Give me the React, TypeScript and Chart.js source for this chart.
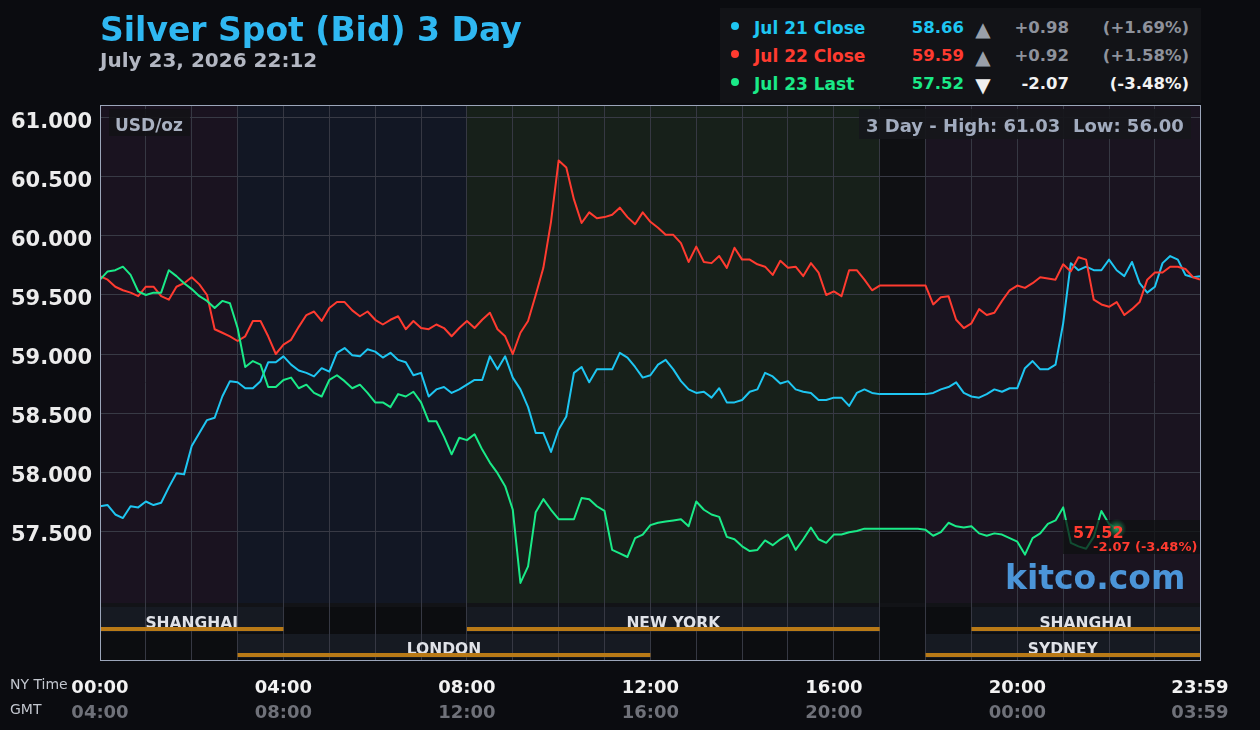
import React, { useEffect, useRef } from 'react';
import { Chart, registerables } from 'chart.js';

Chart.register(...registerables);

const FONT = '"DejaVu Sans", "Noto Sans", sans-serif';

// NY time, one sample every 10 minutes; the last sample of a full day is 23:59
const SAMPLE_STEP = 10;
const DAY_LAST_MINUTE = 1439;

const JUL21_CLOSE = [
  57.71, 57.72, 57.64, 57.61, 57.71, 57.70, 57.75, 57.72, 57.74, 57.87,
  57.99, 57.98, 58.22, 58.33, 58.44, 58.46, 58.64, 58.77, 58.76, 58.71,
  58.71, 58.77, 58.93, 58.93, 58.98, 58.91, 58.86, 58.84, 58.81, 58.88,
  58.85, 59.01, 59.05, 58.99, 58.98, 59.04, 59.02, 58.97, 59.01, 58.95,
  58.93, 58.82, 58.84, 58.64, 58.70, 58.72, 58.67, 58.70, 58.74, 58.78,
  58.78, 58.98, 58.87, 58.98, 58.80, 58.70, 58.55, 58.33, 58.33, 58.17,
  58.36, 58.47, 58.84, 58.89, 58.76, 58.87, 58.87, 58.87, 59.01, 58.97,
  58.89, 58.80, 58.82, 58.91, 58.95, 58.87, 58.77, 58.70, 58.67, 58.68,
  58.63, 58.71, 58.59, 58.59, 58.61, 58.68, 58.70, 58.84, 58.81, 58.75,
  58.77, 58.70, 58.68, 58.67, 58.61, 58.61, 58.63, 58.63, 58.56, 58.67,
  58.70, 58.67, 58.66, 58.66, 58.66, 58.66, 58.66, 58.66, 58.66, 58.67,
  58.70, 58.72, 58.76, 58.67, 58.64, 58.63, 58.66, 58.70, 58.68, 58.71,
  58.71, 58.88, 58.94, 58.87, 58.87, 58.91, 59.26, 59.77, 59.71, 59.74,
  59.71, 59.71, 59.80, 59.71, 59.66, 59.78, 59.60, 59.52, 59.57, 59.77,
  59.83, 59.80, 59.67, 59.65, 59.66,
];

const JUL22_CLOSE = [
  59.66, 59.63, 59.57, 59.54, 59.52, 59.49, 59.57, 59.57, 59.49, 59.46,
  59.57, 59.60, 59.65, 59.59, 59.50, 59.21, 59.18, 59.15, 59.11, 59.15,
  59.28, 59.28, 59.15, 59.00, 59.08, 59.12, 59.23, 59.33, 59.36, 59.28,
  59.39, 59.44, 59.44, 59.37, 59.32, 59.36, 59.29, 59.25, 59.29, 59.32,
  59.21, 59.28, 59.22, 59.21, 59.25, 59.22, 59.15, 59.22, 59.28, 59.22,
  59.29, 59.35, 59.21, 59.15, 59.00, 59.18, 59.28, 59.50, 59.73, 60.12,
  60.64, 60.58, 60.31, 60.11, 60.20, 60.15, 60.16, 60.18, 60.24, 60.16,
  60.10, 60.20, 60.12, 60.07, 60.01, 60.01, 59.94, 59.78, 59.91, 59.78,
  59.77, 59.83, 59.73, 59.90, 59.80, 59.80, 59.76, 59.74, 59.67, 59.79,
  59.73, 59.74, 59.66, 59.77, 59.69, 59.50, 59.53, 59.49, 59.71, 59.71,
  59.63, 59.54, 59.58, 59.58, 59.58, 59.58, 59.58, 59.58, 59.58, 59.42,
  59.48, 59.49, 59.29, 59.22, 59.26, 59.38, 59.33, 59.35, 59.45, 59.54,
  59.58, 59.56, 59.60, 59.65, 59.64, 59.63, 59.76, 59.70, 59.82, 59.80,
  59.46, 59.42, 59.40, 59.44, 59.33, 59.38, 59.44, 59.63, 59.69, 59.69,
  59.74, 59.74, 59.72, 59.65, 59.63,
];

const JUL23_LAST = [
  59.63, 59.70, 59.71, 59.74, 59.67, 59.53, 59.50, 59.52, 59.52, 59.71,
  59.66, 59.60, 59.55, 59.49, 59.45, 59.39, 59.45, 59.43, 59.22, 58.89,
  58.94, 58.91, 58.72, 58.72, 58.78, 58.80, 58.71, 58.74, 58.67, 58.64,
  58.78, 58.82, 58.77, 58.71, 58.74, 58.67, 58.59, 58.59, 58.55, 58.66,
  58.64, 58.68, 58.59, 58.43, 58.43, 58.30, 58.15, 58.29, 58.27, 58.32,
  58.19, 58.08, 57.99, 57.88, 57.68, 57.06, 57.20, 57.66, 57.77, 57.68,
  57.60, 57.60, 57.60, 57.78, 57.77, 57.71, 57.67, 57.34, 57.31, 57.28,
  57.44, 57.47, 57.55, 57.57, 57.58, 57.59, 57.60, 57.54, 57.75, 57.68,
  57.64, 57.62, 57.45, 57.43, 57.37, 57.33, 57.34, 57.42, 57.38, 57.43,
  57.47, 57.34, 57.43, 57.53, 57.43, 57.40, 57.47, 57.47, 57.49, 57.50,
  57.52, 57.52, 57.52, 57.52, 57.52, 57.52, 57.52, 57.52, 57.51, 57.46,
  57.49, 57.57, 57.54, 57.53, 57.54, 57.48, 57.46, 57.48, 57.47, 57.44,
  57.41, 57.30, 57.44, 57.48, 57.56, 57.59, 57.70, 57.40, 57.37, 57.35,
  57.45, 57.67, 57.56, 57.52,
];

const SERIES_NAMES = ['Jul 21 Close', 'Jul 22 Close', 'Jul 23 Last'];
const SERIES_COLORS = ['#1ec6f2', '#ff3b30', '#1aea88'];
const SERIES_VALUES = ['58.66', '59.59', '57.52'];
const SERIES_CHANGES = ['+0.98', '+0.92', '-2.07'];
const SERIES_PCTS = ['(+1.69%)', '(+1.58%)', '(-3.48%)'];
const SERIES_UP = [true, true, false];

const Y_TICKS = [57.5, 58, 58.5, 59, 59.5, 60, 60.5, 61];
const Y_MIN = 56.407;
const Y_MAX = 61.11;

const TICK_MINUTES = [0, 240, 480, 720, 960, 1200, 1439];
const NY_LABELS = ['00:00', '04:00', '08:00', '12:00', '16:00', '20:00', '23:59'];
const GMT_LABELS = ['04:00', '08:00', '12:00', '16:00', '20:00', '00:00', '03:59'];

const BANDS = [
  { from: 0, to: 180, color: '#1a1320' },
  { from: 180, to: 480, color: '#121724' },
  { from: 480, to: 1020, color: '#17201a' },
  { from: 1020, to: 1080, color: '#0f1013' },
  { from: 1080, to: 1439, color: '#1a1420' },
];
const SESSIONS_ROW1 = [
  { name: 'SHANGHAI', from: 0, to: 240 },
  { name: 'NEW YORK', from: 480, to: 1020 },
  { name: 'SHANGHAI', from: 1140, to: 1439 },
];
const SESSIONS_ROW2 = [
  { name: 'LONDON', from: 180, to: 720 },
  { name: 'SYDNEY', from: 1080, to: 1439 },
];

const HIGH_LOW_TEXT = '3 Day - High: 61.03  Low: 56.00';
const LAST_VALUE_TEXT = '57.52';
const LAST_CHANGE_TEXT = '-2.07 (-3.48%)';

const minuteOf = (i: number) => Math.min(i * SAMPLE_STEP, DAY_LAST_MINUTE);
const toPoints = (vals: number[]) => vals.map((v, i) => ({ x: minuteOf(i), y: v }));

const DATA_BOTTOM = 603;

const overlayPlugin = {
  id: 'kitcoOverlay',
  beforeDraw(chart: any) {
    const { ctx, chartArea: ca, scales } = chart;
    const xs = scales.x;
    ctx.save();
    BANDS.forEach((b) => {
      const x0 = xs.getPixelForValue(b.from);
      const x1 = xs.getPixelForValue(b.to);
      ctx.fillStyle = b.color;
      ctx.fillRect(x0, ca.top, x1 - x0, DATA_BOTTOM - ca.top);
    });
    ctx.fillStyle = '#0c0d10';
    ctx.fillRect(ca.left, DATA_BOTTOM, ca.right - ca.left, ca.bottom - DATA_BOTTOM);
    ctx.fillStyle = '#121317';
    ctx.fillRect(ca.left, DATA_BOTTOM, ca.right - ca.left, 4);
    ctx.fillStyle = '#161a22';
    SESSIONS_ROW1.forEach((s) => {
      const x0 = xs.getPixelForValue(s.from);
      const x1 = xs.getPixelForValue(s.to);
      ctx.fillRect(x0, 607, x1 - x0, 25);
    });
    SESSIONS_ROW2.forEach((s) => {
      const x0 = xs.getPixelForValue(s.from);
      const x1 = xs.getPixelForValue(s.to);
      ctx.fillRect(x0, 634, x1 - x0, 24);
    });
    ctx.restore();
  },
  beforeDatasetsDraw(chart: any) {
    const { ctx, scales } = chart;
    const xs = scales.x;
    ctx.save();
    ctx.font = `bold 15.5px ${FONT}`;
    ctx.textAlign = 'center';
    ctx.textBaseline = 'alphabetic';
    const drawRow = (rows: any[], barY: number, baseY: number) => {
      rows.forEach((s) => {
        const x0 = xs.getPixelForValue(s.from);
        const x1 = xs.getPixelForValue(s.to);
        ctx.fillStyle = '#e0e2e8';
        ctx.fillText(s.name, (x0 + x1) / 2, baseY);
        ctx.fillStyle = '#b97a17';
        ctx.fillRect(x0, barY, x1 - x0, 4);
      });
    };
    drawRow(SESSIONS_ROW1, 627, 628);
    drawRow(SESSIONS_ROW2, 653, 654);
    ctx.restore();
  },
  afterDatasetsDraw(chart: any) {
    const { ctx, chartArea: ca, scales } = chart;
    const xs = scales.x;
    const ys = scales.y;
    ctx.save();
    ctx.strokeStyle = '#9ca6ba';
    ctx.lineWidth = 1;
    ctx.strokeRect(ca.left + 0.5, ca.top + 0.5, ca.right - ca.left, ca.bottom - ca.top);

    ctx.fillStyle = 'rgba(18,18,22,0.88)';
    ctx.fillRect(109, 109, 81, 27);
    ctx.font = `bold 17px ${FONT}`;
    ctx.fillStyle = '#a9b1c1';
    ctx.textAlign = 'left';
    ctx.fillText('USD/oz', 115, 131);

    ctx.fillStyle = 'rgba(22,23,27,0.92)';
    ctx.fillRect(859, 109, 332, 30);
    ctx.font = `bold 18px ${FONT}`;
    ctx.fillStyle = '#a2acbf';
    ctx.fillText(HIGH_LOW_TEXT, 866, 132);

    ctx.font = `bold 33px ${FONT}`;
    ctx.fillStyle = '#4b95d8';
    ctx.fillText('kitco.com', 1005, 589);

    ctx.fillStyle = 'rgba(14,16,16,0.72)';
    ctx.fillRect(1063, 520, 137, 34);
    const lastIdx = JUL23_LAST.length - 1;
    const px = xs.getPixelForValue(minuteOf(lastIdx));
    const py = ys.getPixelForValue(JUL23_LAST[lastIdx]);
    const g = ctx.createRadialGradient(px, py, 0, px, py, 10);
    g.addColorStop(0, 'rgba(40,220,130,0.75)');
    g.addColorStop(0.5, 'rgba(30,160,90,0.45)');
    g.addColorStop(1, 'rgba(20,120,70,0)');
    ctx.fillStyle = g;
    ctx.beginPath();
    ctx.arc(px, py, 10, 0, Math.PI * 2);
    ctx.fill();
    ctx.fillStyle = '#ff3b30';
    ctx.font = `bold 16px ${FONT}`;
    ctx.fillText(LAST_VALUE_TEXT, 1073, 538);
    ctx.font = `bold 13px ${FONT}`;
    ctx.fillText(LAST_CHANGE_TEXT, 1093, 551);
    ctx.restore();
  },
  afterDraw(chart: any) {
    const { ctx, scales } = chart;
    const xs = scales.x;
    ctx.save();
    ctx.textAlign = 'center';
    ctx.textBaseline = 'alphabetic';
    ctx.font = `bold 18px ${FONT}`;
    TICK_MINUTES.forEach((m, i) => {
      const px = xs.getPixelForValue(m);
      ctx.fillStyle = '#f2f2f2';
      ctx.fillText(NY_LABELS[i], px, 693);
      ctx.fillStyle = '#6f7179';
      ctx.fillText(GMT_LABELS[i], px, 718);
    });
    ctx.textAlign = 'left';
    ctx.font = `14px ${FONT}`;
    ctx.fillStyle = '#c2c6ce';
    ctx.fillText('NY Time', 10, 689);
    ctx.fillText('GMT', 10, 714);
    ctx.restore();
  },
};

const Txt = ({ x, base, size, color, align = 'left', weight = 'bold', children }: any) => {
  const style: any = {
    position: 'absolute',
    top: Math.round(base - 0.846 * size),
    fontFamily: FONT,
    fontSize: size,
    fontWeight: weight,
    lineHeight: `${size}px`,
    color,
    whiteSpace: 'nowrap',
  };
  if (align === 'right') style.right = 1260 - x;
  else if (align === 'center') { style.left = x - 50; style.width = 100; style.textAlign = 'center'; }
  else style.left = x;
  return <div style={style}>{children}</div>;
};

export default function App() {
  const canvasRef = useRef<HTMLCanvasElement | null>(null);

  useEffect(() => {
    const canvas = canvasRef.current;
    if (!canvas) return;
    const chart = new Chart(canvas, {
      type: 'line',
      data: {
        datasets: [
          { label: SERIES_NAMES[2], data: toPoints(JUL23_LAST), borderColor: SERIES_COLORS[2] },
          { label: SERIES_NAMES[1], data: toPoints(JUL22_CLOSE), borderColor: SERIES_COLORS[1] },
          { label: SERIES_NAMES[0], data: toPoints(JUL21_CLOSE), borderColor: SERIES_COLORS[0] },
        ].map((d) => ({ ...d, borderWidth: 2, pointRadius: 0, tension: 0, borderJoinStyle: 'round' as const, fill: false })),
      },
      options: {
        animation: false,
        responsive: false,
        devicePixelRatio: 1,
        layout: { padding: { left: 0, top: 105, right: 60, bottom: 0 } },
        plugins: { legend: { display: false }, tooltip: { enabled: false } },
        events: [],
        scales: {
          x: {
            type: 'linear',
            min: 0,
            max: DAY_LAST_MINUTE,
            afterBuildTicks: (s: any) => {
              const t = [];
              for (let m = 60; m < DAY_LAST_MINUTE; m += 60) t.push({ value: m });
              s.ticks = t;
            },
            afterFit: (s: any) => { s.height = 70; },
            ticks: { display: false },
            grid: { color: '#363843', drawTicks: false, lineWidth: 1 },
            border: { display: false },
          },
          y: {
            min: Y_MIN,
            max: Y_MAX,
            afterBuildTicks: (s: any) => { s.ticks = Y_TICKS.map((v) => ({ value: v })); },
            afterFit: (s: any) => { s.width = 100; },
            ticks: {
              color: '#ececec',
              font: { family: FONT, size: 21, weight: 'bold' },
              padding: 8,
              labelOffset: 5,
              callback: (v: any) => Number(v).toFixed(3),
            },
            grid: { color: '#383a45', drawTicks: false, lineWidth: 1 },
            border: { display: false },
          },
        },
      },
      plugins: [overlayPlugin],
    } as any);
    return () => chart.destroy();
  }, []);

  const rowBase = [34, 62, 90];
  const dotY = [26, 54, 82];

  return (
    <div style={{ position: 'absolute', left: 0, top: 0, width: 1260, height: 730, background: '#0b0c10', overflow: 'hidden' }}>
      <canvas ref={canvasRef} width={1260} height={730} style={{ position: 'absolute', left: 0, top: 0, width: 1260, height: 730 }} />
      <Txt x={100} base={41} size={33} color="#2fb8f2">Silver Spot (Bid) 3 Day</Txt>
      <Txt x={100} base={67} size={20} color="#b3b7c2">July 23, 2026 22:12</Txt>
      <div style={{ position: 'absolute', left: 720, top: 8, width: 481, height: 95, background: '#121317' }} />
      {SERIES_NAMES.map((name, i) => (
        <React.Fragment key={name}>
          <div style={{ position: 'absolute', left: 731, top: dotY[i] - 4, width: 8, height: 8, borderRadius: 4, background: SERIES_COLORS[i] }} />
          <Txt x={754} base={rowBase[i]} size={17} color={SERIES_COLORS[i]}>{name}</Txt>
          <Txt x={964} base={rowBase[i]} size={16.5} color={SERIES_COLORS[i]} align="right">{SERIES_VALUES[i]}</Txt>
          <Txt x={983} base={rowBase[i] + 2} size={20} color={SERIES_UP[i] ? '#9aa0aa' : '#f0f0f0'} align="center" weight="normal">{SERIES_UP[i] ? '▲' : '▼'}</Txt>
          <Txt x={1069} base={rowBase[i]} size={16.5} color={SERIES_UP[i] ? '#8e929c' : '#f2f2f2'} align="right">{SERIES_CHANGES[i]}</Txt>
          <Txt x={1189} base={rowBase[i]} size={16.5} color={SERIES_UP[i] ? '#8e929c' : '#f2f2f2'} align="right">{SERIES_PCTS[i]}</Txt>
        </React.Fragment>
      ))}
    </div>
  );
}
